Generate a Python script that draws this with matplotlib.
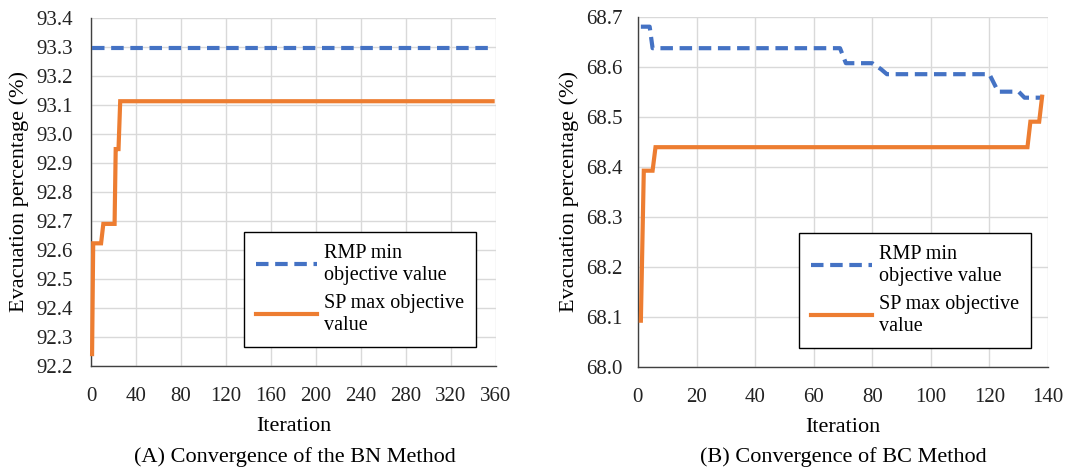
import matplotlib
matplotlib.use('Agg')
import matplotlib.pyplot as plt

plt.rcParams['font.family'] = ['Liberation Serif', 'DejaVu Serif']

# ── data (breakpoints) ──
bn_rmp_x = [1, 357]
bn_rmp_y = [93.295, 93.295]
bn_sp_x = [1, 2, 9, 11, 21, 22, 24.5, 26, 357]
bn_sp_y = [92.241, 92.623, 92.623, 92.69, 92.69, 92.948, 92.948, 93.113, 93.113]

bc_rmp_x = [1, 4, 5, 69, 71, 80, 83, 85, 120, 123, 130, 132, 138]
bc_rmp_y = [68.68, 68.68, 68.637, 68.637, 68.607, 68.607, 68.595, 68.585,
            68.585, 68.55, 68.55, 68.538, 68.538]
bc_sp_x = [1, 2, 5, 6, 133, 134, 137, 138]
bc_sp_y = [68.092, 68.392, 68.392, 68.439, 68.439, 68.49, 68.49, 68.54]

BLUE = '#4472C4'
ORANGE = '#ED7D31'

fig = plt.figure(figsize=(10.65, 4.7), dpi=100, facecolor='white')
ax_a = fig.add_axes([0.0854, 0.2213, 0.3803, 0.7404])
ax_b = fig.add_axes([0.5990, 0.2198, 0.3850, 0.7447])


def style(ax, xticks, yticks, ypad):
    ax.set_xlim(xticks[0], xticks[-1])
    ax.set_ylim(yticks[0], yticks[-1])
    ax.set_xticks(xticks)
    ax.set_yticks(yticks)
    ax.set_yticklabels([f'{v:.1f}' for v in yticks])
    ax.grid(True, color='#d9d9d9', lw=1.0, zorder=0)
    ax.set_axisbelow(True)
    for s in ('top', 'right'):
        ax.spines[s].set_visible(False)
    for s in ('left', 'bottom'):
        ax.spines[s].set_color('#404040')
        ax.spines[s].set_linewidth(1.0)
    ax.tick_params(length=0, labelsize=15, colors='#222222')
    ax.tick_params(axis='x', pad=15)
    ax.tick_params(axis='y', pad=ypad)
    ax.set_xlabel('Iteration', fontsize=16, labelpad=8)
    ax.set_ylabel('Evacuation percentage (%)', fontsize=16, labelpad=5)


def add_legend(ax, anchor):
    ax.legend(loc='upper left', bbox_to_anchor=anchor, fontsize=14.5,
              frameon=True, fancybox=False, edgecolor='black', framealpha=1,
              handlelength=3.0, handletextpad=0.35, labelspacing=0.45,
              borderpad=0.6, borderaxespad=0)


# (A) BN method
ax_a.plot(bn_rmp_x, bn_rmp_y, color=BLUE, lw=3, ls=(0, (3, 1.6)),
          label='RMP min\nobjective value', zorder=3, clip_on=False)
ax_a.plot(bn_sp_x, bn_sp_y, color=ORANGE, lw=3, solid_joinstyle='miter',
          label='SP max objective\nvalue', zorder=3, clip_on=False)
style(ax_a, list(range(0, 361, 40)), [92.2 + 0.1 * i for i in range(13)], 13)
add_legend(ax_a, (0.378, 0.385))

# (B) BC method
ax_b.plot(bc_rmp_x, bc_rmp_y, color=BLUE, lw=3, ls=(0, (3, 1.6)),
          label='RMP min\nobjective value', zorder=3, clip_on=False)
ax_b.plot(bc_sp_x, bc_sp_y, color=ORANGE, lw=3, solid_joinstyle='miter',
          label='SP max objective\nvalue', zorder=3, clip_on=False)
style(ax_b, list(range(0, 141, 20)), [68.0 + 0.1 * i for i in range(8)], 11)
add_legend(ax_b, (0.393, 0.382))

fig.text(0.277, 0.028, '(A) Convergence of the BN Method', ha='center',
         va='center', fontsize=16)
fig.text(0.792, 0.028, '(B) Convergence of BC Method', ha='center',
         va='center', fontsize=16)

fig.savefig('out.png', dpi=100, facecolor='white')
